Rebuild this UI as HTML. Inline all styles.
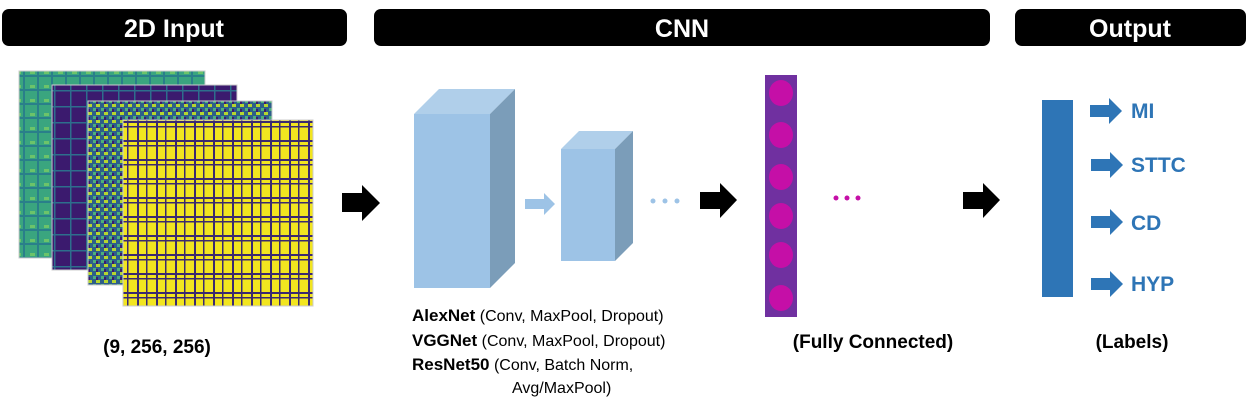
<!DOCTYPE html>
<html><head><meta charset="utf-8"><style>
html,body{margin:0;padding:0;background:#fff;width:1249px;height:402px;overflow:hidden}
svg text{font-family:"Liberation Sans",sans-serif}
</style></head><body>
<svg width="1249" height="402" viewBox="0 0 1249 402" xmlns="http://www.w3.org/2000/svg">
<defs>
<pattern id="pg" width="14" height="14" patternUnits="userSpaceOnUse"><rect width="14" height="14" fill="#3aa57f"/><rect x="0" y="5" width="14" height="2" fill="#2a7f8a"/><rect x="9" y="0" width="2" height="14" fill="#2a7f8a"/><rect x="2" y="1" width="5" height="3" fill="#6cc36a"/></pattern>
<pattern id="pp" width="16" height="16" patternUnits="userSpaceOnUse"><rect width="16" height="16" fill="#3b1a6e"/><rect x="0" y="10" width="16" height="1.5" fill="#2d6e8c"/><rect x="6" y="0" width="1.5" height="16" fill="#2d6e8c"/></pattern>
<pattern id="pm" width="8" height="8" patternUnits="userSpaceOnUse"><rect width="8" height="8" fill="#2d5f8a"/><rect x="0" y="0" width="4" height="3" fill="#b5d630"/><rect x="5" y="4" width="3" height="3" fill="#4cb07a"/><rect x="0" y="5" width="2" height="3" fill="#3b1a6e"/></pattern>
<pattern id="py" width="19" height="19" patternUnits="userSpaceOnUse"><rect width="19" height="19" fill="#f2e51f"/><rect x="0" y="7" width="19" height="2" fill="#3b2a70"/><rect x="0" y="12" width="19" height="1.5" fill="#3b2a70"/><rect x="4" y="0" width="2" height="19" fill="#3b2a70"/><rect x="13" y="0" width="1.5" height="19" fill="#3b2a70"/></pattern>
</defs>
<rect x="2" y="9" width="345" height="37" rx="7" fill="#000"/>
<rect x="374" y="9" width="616" height="37" rx="7" fill="#000"/>
<rect x="1015" y="9" width="231" height="37" rx="7" fill="#000"/>
<text x="174" y="37" text-anchor="middle" fill="#fff" font-size="25" font-weight="bold">2D Input</text>
<text x="682" y="37" text-anchor="middle" fill="#fff" font-size="25" font-weight="bold">CNN</text>
<text x="1130" y="37" text-anchor="middle" fill="#fff" font-size="25" font-weight="bold">Output</text>
<rect x="19" y="71" width="186" height="187" fill="url(#pg)" stroke="#ccc"/>
<rect x="52" y="85" width="185" height="185" fill="url(#pp)" stroke="#ccc"/>
<rect x="88" y="101" width="184" height="184" fill="url(#pm)" stroke="#ccc"/>
<rect x="123" y="120" width="190" height="186" fill="url(#py)" stroke="#ccc"/>
<text x="157" y="353" text-anchor="middle" font-size="19" font-weight="bold">(9, 256, 256)</text>
<polygon points="342,193 362,193 362,185 380,203 362,221 362,212 342,212" fill="#000"/>
<polygon points="700,192 720,192 720,183 737,200 720,218 720,209 700,209" fill="#000"/>
<polygon points="963,192 983,192 983,183 1000,200 983,218 983,209 963,209" fill="#000"/>
<polygon points="414,114 439,89 515,89 490,114" fill="#b0cfea"/>
<polygon points="490,114 515,89 515,263 490,288" fill="#7b9db9"/>
<rect x="414" y="114" width="76" height="174" fill="#9dc3e6"/>
<polygon points="525,199 544,199 544,193 555,204 544,215 544,209 525,209" fill="#9dc3e6"/>
<polygon points="561,149 579,131 633,131 615,149" fill="#b0cfea"/>
<polygon points="615,149 633,131 633,243 615,261" fill="#7b9db9"/>
<rect x="561" y="149" width="54" height="112" fill="#9dc3e6"/>
<circle cx="653" cy="201" r="2.5" fill="#9dc3e6"/><circle cx="665" cy="201" r="2.5" fill="#9dc3e6"/><circle cx="677" cy="201" r="2.5" fill="#9dc3e6"/>
<text x="412" y="321" font-size="16"><tspan font-weight="bold" font-size="17">AlexNet</tspan> (Conv, MaxPool, Dropout)</text>
<text x="412" y="346" font-size="16"><tspan font-weight="bold" font-size="17">VGGNet</tspan>  (Conv, MaxPool, Dropout)</text>
<text x="412" y="370" font-size="16"><tspan font-weight="bold" font-size="17">ResNet50</tspan> (Conv, Batch Norm,</text>
<text x="512" y="393" font-size="16">Avg/MaxPool)</text>
<rect x="765" y="75" width="32" height="242" fill="#7030a0"/>
<g fill="#c50fa7">
<ellipse cx="781" cy="93" rx="12" ry="13"/><ellipse cx="781" cy="135" rx="12" ry="13"/><ellipse cx="781" cy="177" rx="12" ry="13"/>
<ellipse cx="781" cy="216" rx="12" ry="13"/><ellipse cx="781" cy="255" rx="12" ry="13"/><ellipse cx="781" cy="298" rx="12" ry="13"/>
<circle cx="836" cy="198" r="2.5"/><circle cx="847" cy="198" r="2.5"/><circle cx="858" cy="198" r="2.5"/>
</g>
<text x="873" y="348" text-anchor="middle" font-size="19" font-weight="bold">(Fully Connected)</text>
<rect x="1042" y="100" width="31" height="197" fill="#2e75b6"/>
<g fill="#2e75b6">
<polygon points="1090,105 1109,105 1109,98 1122,111 1109,124 1109,117 1090,117"/>
<polygon points="1091,159 1110,159 1110,152 1123,165 1110,178 1110,171 1091,171"/>
<polygon points="1091,216 1110,216 1110,209 1123,222 1110,235 1110,228 1091,228"/>
<polygon points="1091,278 1110,278 1110,271 1123,284 1110,297 1110,290 1091,290"/>
</g>
<g fill="#2e75b6" font-size="21" font-weight="bold">
<text x="1131" y="118">MI</text><text x="1131" y="172">STTC</text><text x="1131" y="230">CD</text><text x="1131" y="291">HYP</text>
</g>
<text x="1132" y="348" text-anchor="middle" font-size="19" font-weight="bold">(Labels)</text>
</svg>
</body></html>
